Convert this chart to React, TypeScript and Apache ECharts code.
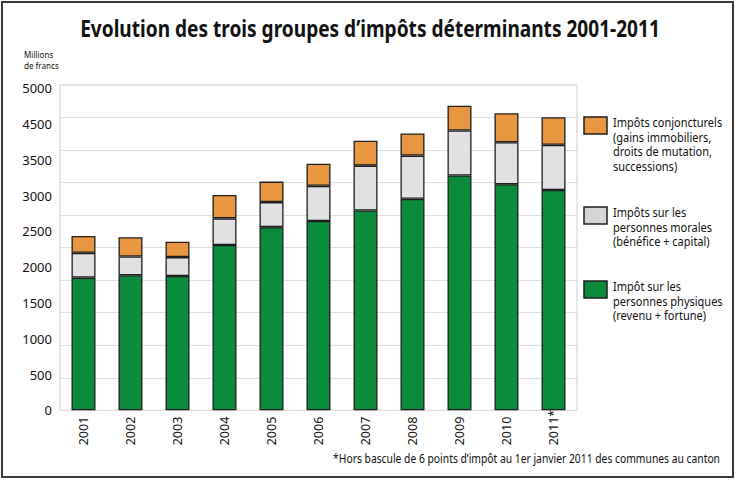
import React, { useEffect, useRef } from "react";
import * as echarts from "echarts";

const years = ["2001", "2002", "2003", "2004", "2005", "2006", "2007", "2008", "2009", "2010", "2011*"];
const physiques = [2040, 2075, 2065, 2540, 2815, 2910, 3070, 3250, 3610, 3475, 3385];
const morales = [380, 290, 290, 410, 385, 540, 690, 665, 690, 645, 695];
const conjoncturels = [260, 295, 235, 360, 315, 340, 385, 340, 380, 445, 425];
const yTickLabels = ["0", "500", "1000", "1500", "2000", "2500", "3000", "3500", "4500", "5000"];

const seriesNames = ["Impôt sur les personnes physiques", "Impôts sur les personnes morales", "Impôts conjoncturels"];
const legendTexts = [
  "Impôts conjoncturels\n(gains immobiliers,\ndroits de mutation,\nsuccessions)",
  "Impôts sur les\npersonnes morales\n(bénéfice + capital)",
  "Impôt sur les\npersonnes physiques\n(revenu + fortune)",
];
const title = "Evolution des trois groupes d’impôts déterminants 2001-2011";
const unitText = "Millions\nde francs";
const footnote = "*Hors bascule de 6 points d’impôt au 1er janvier 2011 des communes au canton";

const COLORS = { conj: "#E8963F", morales: "#E1E1E3", phys: "#0A8C3C" };
const LEGEND_COLORS = [COLORS.conj, "#D6D6D8", COLORS.phys];
const FONT = "'Noto Sans', 'Open Sans', sans-serif";

export default function App() {
  const ref = useRef<HTMLDivElement>(null);
  useEffect(() => {
    if (!ref.current) return;
    const chart = echarts.init(ref.current, null, { renderer: "svg" });
    const edge = { borderColor: "#1e1e1e", borderWidth: 1.3 };
    const legendTops = [117, 207, 281];
    const legendGraphics: any[] = [];
    legendTexts.forEach((t, i) => {
      legendGraphics.push({
        type: "rect",
        shape: { x: 584, y: legendTops[i], width: 23, height: 17 },
        style: { fill: LEGEND_COLORS[i], stroke: "#1e1e1e", lineWidth: 1.5 },
      });
      legendGraphics.push({
        type: "text",
        x: 613,
        y: legendTops[i] - 3,
        scaleX: 0.88,
        style: {
          text: t,
          fontFamily: FONT,
          fontSize: 12.5,
          lineHeight: 14.8,
          fill: "#111",
          textAlign: "left",
          textVerticalAlign: "top",
        },
      });
    });
    chart.setOption({
      animation: false,
      grid: { left: 60, right: 161, top: 85, bottom: 70.7, show: true, borderColor: "#cfcfcf", borderWidth: 1, containLabel: false },
      xAxis: {
        type: "category",
        data: years,
        axisLine: { show: false },
        axisTick: { show: false },
        axisLabel: { rotate: 90, align: "left", verticalAlign: "middle", margin: 35, fontSize: 12.5, color: "#111", fontFamily: FONT, interval: 0 },
      },
      yAxis: [
        {
          type: "value",
          min: 0,
          max: 5000,
          interval: 500,
          axisLabel: { show: false },
          axisLine: { show: false },
          axisTick: { show: false },
          splitLine: { show: true, lineStyle: { color: "#dedede", width: 1 } },
        },
        {
          type: "value",
          min: 0,
          max: 9.09,
          interval: 1,
          position: "left",
          axisLine: { show: false },
          axisTick: { show: false },
          splitLine: { show: false },
          axisLabel: {
            margin: 8,
            fontSize: 13,
            color: "#111",
            fontFamily: FONT,
            showMaxLabel: false,
            formatter: (v: number) => (Number.isInteger(v) && yTickLabels[v] !== undefined ? yTickLabels[v] : ""),
          },
        },
      ],
      series: [
        { name: seriesNames[0], type: "bar", stack: "t", yAxisIndex: 0, barWidth: 24, data: physiques, itemStyle: { color: COLORS.phys, ...edge } },
        { name: seriesNames[1], type: "bar", stack: "t", yAxisIndex: 0, barWidth: 24, data: morales, itemStyle: { color: COLORS.morales, ...edge } },
        { name: seriesNames[2], type: "bar", stack: "t", yAxisIndex: 0, barWidth: 24, data: conjoncturels, itemStyle: { color: COLORS.conj, ...edge } },
      ],
      graphic: [
        {
          type: "rect",
          shape: { x: 2, y: 2, width: 731, height: 475 },
          style: { fill: "none", stroke: "#3a3a3a", lineWidth: 2 },
        },
        {
          type: "text",
          x: 370,
          y: 28,
          scaleX: 0.83,
          style: {
            text: title,
            fontFamily: FONT,
            fontWeight: "bold",
            fontSize: 23,
            fill: "#111",
            textAlign: "center",
            textVerticalAlign: "middle",
          },
        },
        {
          type: "text",
          x: 24,
          y: 50,
          scaleX: 0.85,
          style: {
            text: unitText,
            fontFamily: FONT,
            fontSize: 9.5,
            lineHeight: 10.5,
            fill: "#111",
            textAlign: "left",
            textVerticalAlign: "top",
          },
        },
        {
          type: "text",
          x: 720,
          y: 458,
          scaleX: 0.86,
          style: {
            text: footnote,
            fontFamily: FONT,
            fontSize: 12,
            fill: "#111",
            textAlign: "right",
            textVerticalAlign: "middle",
          },
        },
        ...legendGraphics,
      ],
    });
    return () => chart.dispose();
  }, []);
  return <div ref={ref} style={{ position: "fixed", left: 0, top: 0, width: 738, height: 481, background: "#fff" }} />;
}
